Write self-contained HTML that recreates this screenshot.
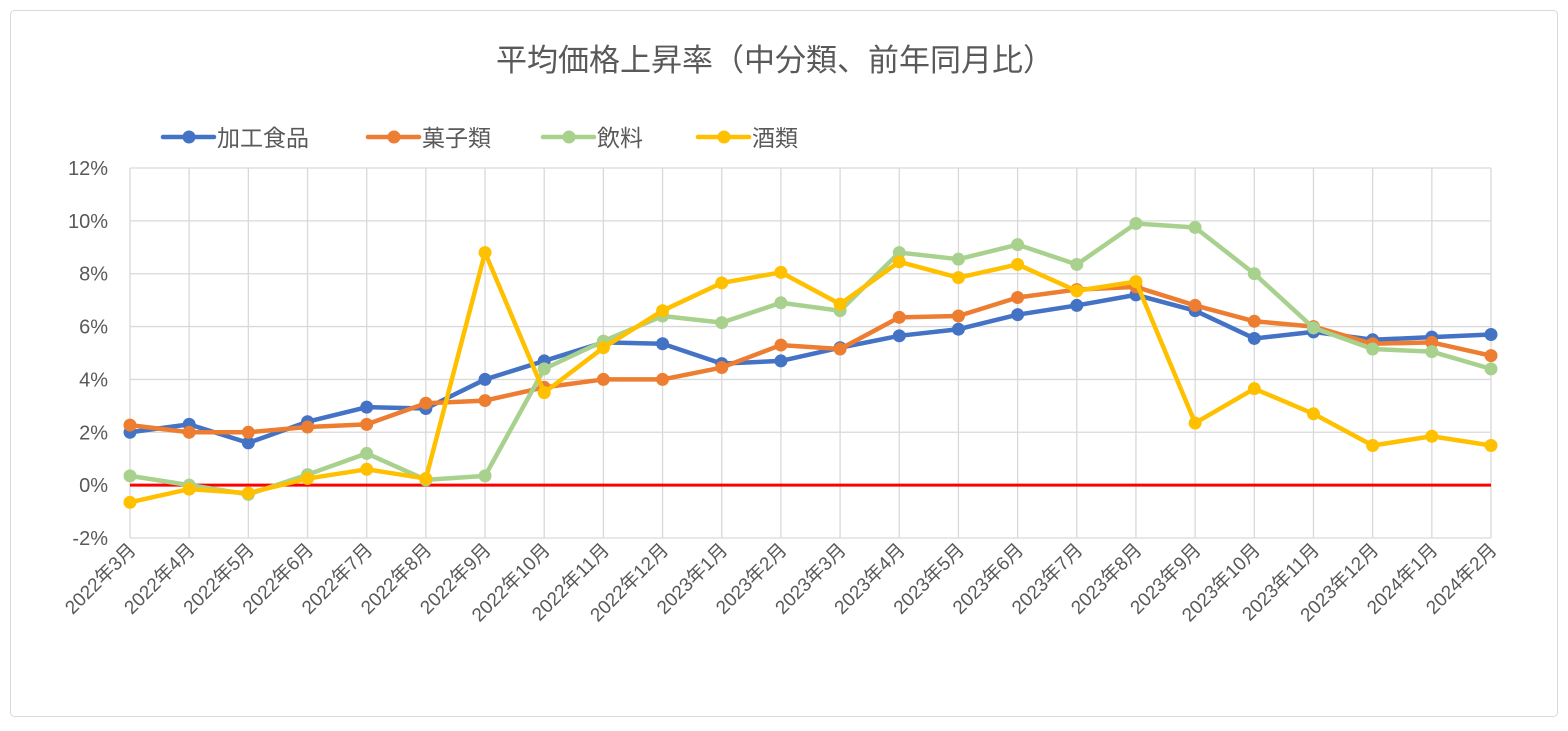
<!DOCTYPE html>
<html><head><meta charset="utf-8"><style>
body{margin:0;background:#fff;}
svg text{font-family:"Liberation Sans","Noto Sans CJK JP",sans-serif;fill:#595959;}
</style></head><body>
<svg id="chart" width="1568" height="726" xmlns="http://www.w3.org/2000/svg">
<rect x="10.5" y="10.5" width="1547" height="706" rx="4" fill="#fff" stroke="#d9d9d9"/>
<text x="775" y="71" font-size="31" text-anchor="middle">平均価格上昇率（中分類、前年同月比）</text>
<g id="grid"></g><g id="axes"></g><g id="series"></g><g id="legend"></g>
</svg>
<script>
const categories=["2022年3月","2022年4月","2022年5月","2022年6月","2022年7月","2022年8月","2022年9月","2022年10月","2022年11月","2022年12月","2023年1月","2023年2月","2023年3月","2023年4月","2023年5月","2023年6月","2023年7月","2023年8月","2023年9月","2023年10月","2023年11月","2023年12月","2024年1月","2024年2月"];
const seriesNames=["加工食品","菓子類","飲料","酒類"];
const seriesColors=["#4472c4","#ed7d31","#a9d18e","#ffc000"];
const processed=[2.0,2.3,1.6,2.4,2.95,2.9,4.0,4.7,5.4,5.35,4.6,4.7,5.2,5.65,5.9,6.45,6.8,7.2,6.6,5.55,5.8,5.5,5.6,5.7];
const sweets=[2.27,2.0,2.0,2.2,2.3,3.1,3.2,3.7,4.0,4.0,4.45,5.3,5.15,6.35,6.4,7.1,7.4,7.5,6.8,6.2,6.0,5.35,5.4,4.9];
const drinks=[0.35,0.0,-0.35,0.4,1.2,0.2,0.35,4.4,5.45,6.4,6.15,6.9,6.6,8.8,8.55,9.1,8.35,9.9,9.75,8.0,5.95,5.15,5.05,4.4];
const liquor=[-0.65,-0.15,-0.3,0.25,0.6,0.25,8.8,3.5,5.2,6.6,7.65,8.05,6.85,8.45,7.85,8.35,7.35,7.7,2.35,3.65,2.7,1.5,1.85,1.5];
const yTicks=[-2,0,2,4,6,8,10,12];
const allSeries=[processed,sweets,drinks,liquor];
const NS="http://www.w3.org/2000/svg";
const x0=130,x1=1491,yTop=168,yBot=538,yMin=-2,yMax=12;
const xs=i=>x0+i*(x1-x0)/(categories.length-1);
const ys=v=>yBot-(v-yMin)/(yMax-yMin)*(yBot-yTop);
function mk(tag,attrs,parent){const e=document.createElementNS(NS,tag);for(const k in attrs)e.setAttribute(k,attrs[k]);parent.appendChild(e);return e;}
const grid=document.getElementById('grid'),axes=document.getElementById('axes'),ser=document.getElementById('series'),leg=document.getElementById('legend');
yTicks.forEach(t=>{
 const l=mk('line',{x1:x0,x2:x1,y1:ys(t),y2:ys(t),stroke:'#d9d9d9','stroke-width':1.3},grid);
 
 
 const tx=mk('text',{x:108,y:ys(t)+7,'font-size':20,'text-anchor':'end'},axes);
 tx.textContent=t+'%';
 
 
});
categories.forEach((c,i)=>{
 const l=mk('line',{x1:xs(i),x2:xs(i),y1:yTop,y2:yBot,stroke:'#d9d9d9','stroke-width':1.3},grid);
 
 
 const tx=mk('text',{x:xs(i)+7,y:yBot+13,'font-size':19,'text-anchor':'end',transform:`rotate(-45 ${xs(i)+7} ${yBot+13})`},axes);
 tx.textContent=c;
 
 
});
const zl=mk('line',{x1:x0,x2:x1,y1:ys(0),y2:ys(0),stroke:'#ff0000','stroke-width':3},axes);


allSeries.forEach((d,s)=>{
 const g=mk('g',{},ser);
 
 
 const p=mk('polyline',{points:d.map((v,i)=>xs(i)+','+ys(v)).join(' '),fill:'none',stroke:seriesColors[s],'stroke-width':4.5,'stroke-linejoin':'round','stroke-linecap':'round'},g);
 
 
 d.forEach((v,i)=>{
  const c=mk('circle',{cx:xs(i),cy:ys(v),r:6.5,fill:seriesColors[s]},g);
  
  
 });
});
const legX=[163,368,543,698];
seriesNames.forEach((n,s)=>{
 const g=mk('g',{},leg);
 
 
 mk('line',{x1:legX[s],x2:legX[s]+51,y1:137,y2:137,stroke:seriesColors[s],'stroke-width':4.5,'stroke-linecap':'round'},g);
 mk('circle',{cx:legX[s]+26,cy:137,r:6.5,fill:seriesColors[s]},g);
 const t=mk('text',{x:legX[s]+54,y:146,'font-size':23},g);
 t.textContent=n;
});
</script>
</body></html>
